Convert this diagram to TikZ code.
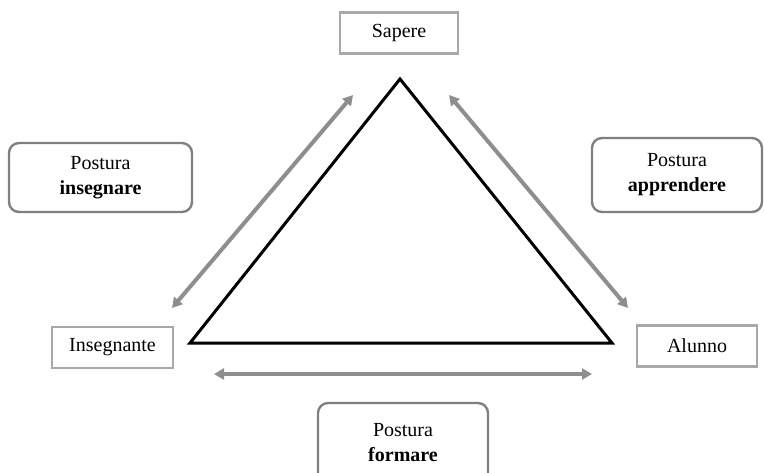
\documentclass[tikz,border=0pt]{standalone}
\usepackage{fontspec}
\setmainfont{Liberation Serif}
\usetikzlibrary{arrows.meta}
\definecolor{rolegray}{HTML}{A8A8A8}
\definecolor{posgray}{HTML}{808080}
\definecolor{arrgray}{HTML}{8E8E8E}

\begin{document}
\begin{tikzpicture}[x=0.5pt,y=-0.5pt,font=\fontsize{10}{12.5}\selectfont]
\tikzset{
  role/.style={draw=rolegray,line width=1.4pt,fill=white,minimum height=20.5pt,inner sep=0pt},
  posture/.style={draw=posgray,line width=1.2pt,rounded corners=5pt,fill=white,align=center,inner sep=0pt},
  link/.style={draw=arrgray,line width=2pt,{Triangle[length=5pt,width=5.5pt]}-{Triangle[length=5pt,width=5.5pt]}}
}
\useasboundingbox (0,0) rectangle (764,472);
% triangle
\coordinate (top) at (400,79);\coordinate (bl) at (190,343);\coordinate (br) at (612,343);
\draw[line width=1.5pt,line join=miter] (top)--(bl)--(br)--cycle;
% the three poles
\node[role,minimum width=59pt] (sapere) at (399,33) {Sapere};
\node[role,minimum width=60.5pt] (insegnante) at (112.5,347.5) {Insegnante};
\node[role,minimum width=60pt] (alunno) at (697,346) {Alunno};
% the three postures
\node[posture,minimum width=91.5pt,minimum height=34.5pt] (insegnare) at (100.5,177.5) {Postura\\\textbf{insegnare}};
\node[posture,minimum width=85pt,minimum height=37pt] (apprendere) at (677,175) {Postura\\\textbf{apprendere}};
\node[posture,minimum width=85pt,minimum height=40pt] (formare) at (403,443) {Postura\\\textbf{formare}};
% arrows along the sides
\coordinate (l1) at (353,95);\coordinate (l2) at (172,308);
\coordinate (r1) at (449,95);\coordinate (r2) at (628,308);
\coordinate (b1) at (214,374);\coordinate (b2) at (592,374);
\draw[link] (l1)--(l2);
\draw[link] (r1)--(r2);
\draw[link] (b1)--(b2);
\end{tikzpicture}
\end{document}
